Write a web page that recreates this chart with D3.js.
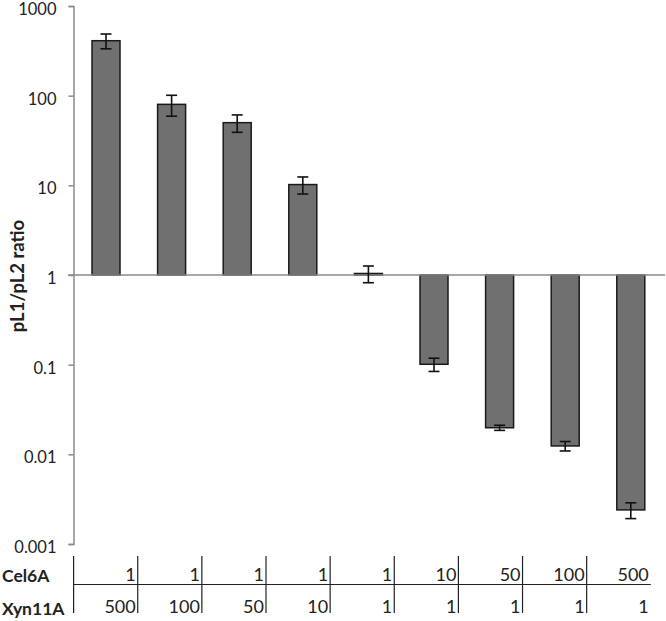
<!DOCTYPE html>
<html>
<head>
  <meta charset="utf-8">
  <style>
    body { margin: 0; background: #fff; }
    svg text { font-family: Lato, "Liberation Sans", sans-serif; fill: #222; }
  </style>
</head>
<body>
  <div id="chart"></div>
  <script src="https://d3js.org/d3.v7.min.js"></script>
  <script>
    // data
    const cel6A  = [1, 1, 1, 1, 1, 10, 50, 100, 500];
    const xyn11A = [500, 100, 50, 10, 1, 1, 1, 1, 1];
    const ratio  = [410, 80, 50, 10.2, 1.04, 0.101, 0.0198, 0.0124, 0.0024];
    const errs   = [77, 21, 11, 2.2, 0.22, 0.017, 0.0013, 0.0015, 0.00048];
    const yTicks = [0.001, 0.01, 0.1, 1, 10, 100, 1000];
    const yTickLabels = ["0.001", "0.01", "0.1", "1", "10", "100", "1000"];

    const width = 666, height = 621;
    const idx = d3.range(ratio.length);

    const svg = d3.select("#chart").append("svg")
      .attr("width", width)
      .attr("height", height);

    const y = d3.scaleLog().domain([0.001, 1000]).range([544, 6]);
    const x = d3.scaleBand().domain(idx).range([73.2, 663.6]);
    const xt = d3.scaleBand().domain(idx).range([73.6, 650.8]);
    const barW = 28;

    // y axis
    const yAxis = d3.axisLeft(y)
      .tickValues(yTicks)
      .tickFormat((d, i) => yTickLabels[i])
      .tickSize(5)
      .tickPadding(12);
    const ga = svg.append("g")
      .attr("transform", "translate(73.5,0)")
      .call(yAxis);
    ga.select(".domain").attr("stroke", "#8a8a8a").attr("stroke-width", 1.5);
    ga.selectAll(".tick line").attr("stroke", "#8a8a8a").attr("stroke-width", 1.5);
    ga.selectAll(".tick text")
      .attr("dy", "0.52em")
      .style("font-size", "16.5px")
      .style("font-family", "Lato, 'Liberation Sans', sans-serif")
      .attr("fill", "#222");

    // bars from baseline 1
    svg.selectAll("rect.bar")
      .data(idx)
      .join("rect")
      .attr("class", "bar")
      .attr("x", i => x(i) + x.bandwidth() / 2 - barW / 2)
      .attr("width", barW)
      .attr("y", i => Math.min(y(ratio[i]), y(1)))
      .attr("height", i => Math.abs(y(ratio[i]) - y(1)))
      .attr("fill", "#707070")
      .attr("stroke", "#1a1a1a")
      .attr("stroke-width", 1.5);

    // baseline at 1
    svg.append("line")
      .attr("x1", 68).attr("x2", 665)
      .attr("y1", y(1)).attr("y2", y(1))
      .attr("stroke", "#8a8a8a")
      .attr("stroke-width", 1.5);

    // error bars
    const eb = svg.selectAll("g.err")
      .data(idx)
      .join("g")
      .attr("class", "err")
      .attr("stroke", "#111")
      .attr("stroke-width", 1.6);
    eb.append("line")
      .attr("x1", i => x(i) + x.bandwidth() / 2)
      .attr("x2", i => x(i) + x.bandwidth() / 2)
      .attr("y1", i => y(ratio[i] + errs[i]))
      .attr("y2", i => y(ratio[i] - errs[i]));
    [1, -1].forEach(s => {
      eb.append("line")
        .attr("x1", i => x(i) + x.bandwidth() / 2 - 5.5)
        .attr("x2", i => x(i) + x.bandwidth() / 2 + 5.5)
        .attr("y1", i => y(ratio[i] + s * errs[i]))
        .attr("y2", i => y(ratio[i] + s * errs[i]));
    });

    // y label
    svg.append("text")
      .attr("transform", `translate(24,${y(1) + 1}) rotate(-90)`)
      .attr("text-anchor", "middle")
      .style("font-size", "18.5px")
      .style("font-weight", "bold")
      .text("pL1/pL2 ratio");

    // table under the chart
    const tTop = 556, tMid = 584.5, tBot = 613;
    const tbl = svg.append("g").attr("stroke", "#222").attr("stroke-width", 1.2);
    tbl.append("line").attr("x1", 73.6).attr("x2", 73.6).attr("y1", tTop).attr("y2", tBot);
    tbl.append("line").attr("x1", 73.6).attr("x2", xt.range()[1]).attr("y1", tMid).attr("y2", tMid);
    tbl.selectAll("line.div")
      .data(idx.slice(0, -1))
      .join("line")
      .attr("class", "div")
      .attr("x1", i => xt(i) + xt.bandwidth())
      .attr("x2", i => xt(i) + xt.bandwidth())
      .attr("y1", tTop).attr("y2", tBot);

    const rows = [["Cel6A", cel6A, 581.5, 581], ["Xyn11A", xyn11A, 615, 612.5]];
    rows.forEach(([name, vals, nameBase, base]) => {
      svg.append("text")
        .attr("x", 2).attr("y", nameBase)
        .style("font-size", "17.5px")
        .style("font-weight", "bold")
        .text(name);
      svg.selectAll(null)
        .data(idx)
        .join("text")
        .attr("x", i => xt(i) + xt.bandwidth() - 2)
        .attr("y", base)
        .attr("text-anchor", "end")
        .style("font-size", "18px")
        .text(i => vals[i]);
    });
  </script>
</body>
</html>
